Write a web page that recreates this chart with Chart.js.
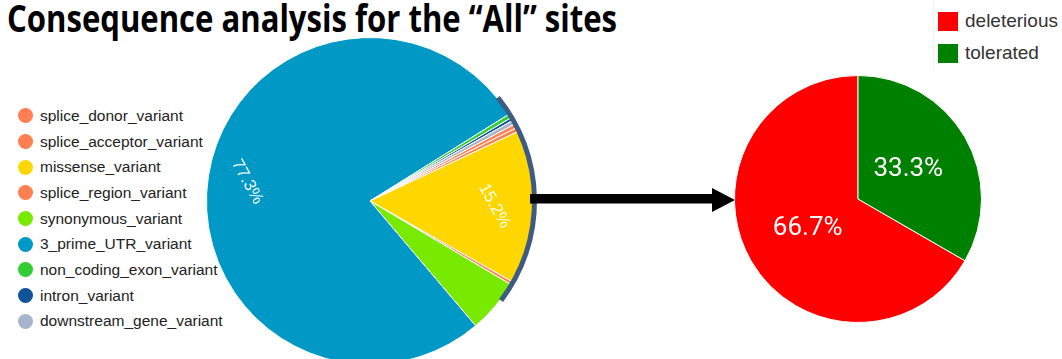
<!DOCTYPE html>
<html>
<head>
<meta charset="utf-8">
<script src="https://cdn.jsdelivr.net/npm/chart.js@4.4.0/dist/chart.umd.min.js"></script>
<style>
    html, body {
        margin: 0;
        padding: 0;
        background: #fff;
        width: 1062px;
        height: 359px;
        overflow: hidden;
        position: relative;
        font-family: Arial, "Liberation Sans", sans-serif;
    }

    #title {
        position: absolute;
        left: 7px;
        top: -1px;
        font-family: "Open Sans", sans-serif;
        font-weight: 700;
        font-size: 37px;
        line-height: 37px;
        color: #000;
        white-space: nowrap;
        transform-origin: 0 0;
    }

    #consequenceChart { position: absolute; left: 190px; top: 21px; }
    #toleranceChart { position: absolute; left: 718px; top: 59px; }

    #consequenceLegend { position: absolute; left: 18px; top: 103px; }
    .legend-row { height: 25.7px; display: flex; align-items: center; font-size: 15.5px; color: #222; }
    .legend-row .dot { width: 15px; height: 15px; border-radius: 50%; margin-right: 7px; flex: none; }

    #toleranceLegend { position: absolute; left: 938px; top: 5px; }
    .tol-row { height: 32px; display: flex; align-items: center; font-size: 19px; color: #333; }
    .tol-row .sq { width: 20px; height: 19px; margin-right: 7px; flex: none; }

    #legendRule { position: absolute; left: 933px; top: 0; width: 1px; height: 70px; background: #f3f3f3; }
    #arrow { position: absolute; left: 0; top: 0; }
</style>
</head>
<body>
<div id="title">Consequence analysis for the “All” sites</div>

<div id="consequenceLegend"></div>
<div id="legendRule"></div>
<div id="toleranceLegend"></div>

<canvas id="consequenceChart" width="360" height="360"></canvas>
<canvas id="toleranceChart" width="280" height="280"></canvas>

<svg id="arrow" width="1062" height="359">
    <rect x="530" y="194" width="184" height="9.5" fill="#000"></rect>
    <polygon points="712,188 735,200 712,212" fill="#000"></polygon>
</svg>

<script>
// share of each consequence type (%), in drawing order
const consequenceLabels = [
    'splice_donor_variant',
    'splice_acceptor_variant',
    'missense_variant',
    'splice_region_variant',
    'synonymous_variant',
    '3_prime_UTR_variant',
    'non_coding_exon_variant',
    'intron_variant',
    'downstream_gene_variant'
];
const consequenceShares = [0.4, 0.4, 15.2, 0.3, 5.3, 77.3, 0.4, 0.3, 0.4];

// missense sites split by predicted effect
const toleranceLabels = ['deleterious', 'tolerated'];
const toleranceCounts = [2, 1];

const CONSEQUENCE_COLORS = [
    '#ff7f50', '#ff7f50', '#ffd700', '#ff7f50', '#77ea00',
    '#0099c6', '#32cd32', '#0f5499', '#a6b5cc'
];
const TOLERANCE_COLORS = ['#ff0000', '#008000'];
const HIGHLIGHT_COLOR = '#3e5b84';

const sliceLabels = {
    id: 'sliceLabels',
    afterDatasetsDraw: function (chart, args, opts) {
        const meta = chart.getDatasetMeta(0);
        const values = chart.data.datasets[0].data;
        const total = values.reduce(function (a, b) { return a + b; }, 0);
        const ctx = chart.ctx;

        ctx.save();
        ctx.fillStyle = opts.color;
        ctx.font = opts.font;
        ctx.textAlign = 'center';
        ctx.textBaseline = 'middle';
        meta.data.forEach(function (arc, i) {
            const pct = values[i] / total * 100;
            if (pct < opts.minPercent) return;
            const mid = (arc.startAngle + arc.endAngle) / 2;
            const r = arc.outerRadius * opts.radius;
            ctx.save();
            ctx.translate(arc.x + Math.cos(mid) * r, arc.y + Math.sin(mid) * r);
            ctx.rotate(opts.angle * Math.PI / 180);
            ctx.fillText(pct.toFixed(1) + '%', 0, 0);
            ctx.restore();
        });
        ctx.restore();
    }
};

// outline around the missense side of the pie
const highlightRing = {
    id: 'highlightRing',
    afterDatasetsDraw: function (chart, args, opts) {
        const arc = chart.getDatasetMeta(0).data[0];
        const ctx = chart.ctx;
        ctx.save();
        ctx.strokeStyle = opts.color;
        ctx.lineWidth = opts.width;
        ctx.beginPath();
        ctx.arc(arc.x, arc.y, arc.outerRadius + opts.gap, opts.from * Math.PI / 180, opts.to * Math.PI / 180);
        ctx.stroke();
        ctx.restore();
    }
};

const doPieConfig = function (labels, data, colors, rotation, padding, labelOptions, extra) {
    return {
        type: 'pie',
        data: {
            labels: labels,
            datasets: [{
                data: data,
                backgroundColor: colors,
                borderColor: '#ffffff',
                borderWidth: 1
            }]
        },
        options: {
            responsive: false,
            animation: false,
            events: [],
            rotation: rotation,
            layout: { padding: padding },
            plugins: Object.assign({
                legend: { display: false },
                tooltip: { enabled: false },
                sliceLabels: labelOptions
            }, extra)
        }
    };
};

const buildLegend = function (containerId, labels, colors, rowClass, markClass) {
    const container = document.getElementById(containerId);
    labels.forEach(function (label, i) {
        const row = document.createElement('div');
        row.className = rowClass;
        const mark = document.createElement('span');
        mark.className = markClass;
        mark.style.background = colors[i];
        row.appendChild(mark);
        row.appendChild(document.createTextNode(label));
        container.appendChild(row);
    });
};

buildLegend('consequenceLegend', consequenceLabels, CONSEQUENCE_COLORS, 'legend-row', 'dot');
buildLegend('toleranceLegend', toleranceLabels, TOLERANCE_COLORS, 'tol-row', 'sq');

const consequenceConfig = doPieConfig(consequenceLabels, consequenceShares, CONSEQUENCE_COLORS, 62, 16, {
    color: 'rgba(255,255,255,0.95)',
    font: '17px Arial, "Liberation Sans", sans-serif',
    minPercent: 10,
    radius: 0.76,
    angle: 61
}, {
    highlightRing: { color: HIGHLIGHT_COLOR, width: 5, gap: 1, from: -39, to: 37.2 }
});
consequenceConfig.plugins = [highlightRing, sliceLabels];

const toleranceConfig = doPieConfig(toleranceLabels, toleranceCounts, TOLERANCE_COLORS, 120, 16, {
    color: '#ffffff',
    font: '26px Roboto, Arial, sans-serif',
    minPercent: 10,
    radius: 0.47,
    angle: 0
}, {});
toleranceConfig.plugins = [sliceLabels];

const consequenceChart = new Chart(document.getElementById('consequenceChart'), consequenceConfig);
const toleranceChart = new Chart(document.getElementById('toleranceChart'), toleranceConfig);

// squeeze the heading to the slide's width
const title = document.getElementById('title');
title.style.transform = 'scaleX(' + (610 / title.getBoundingClientRect().width) + ')';
</script>
</body>
</html>
